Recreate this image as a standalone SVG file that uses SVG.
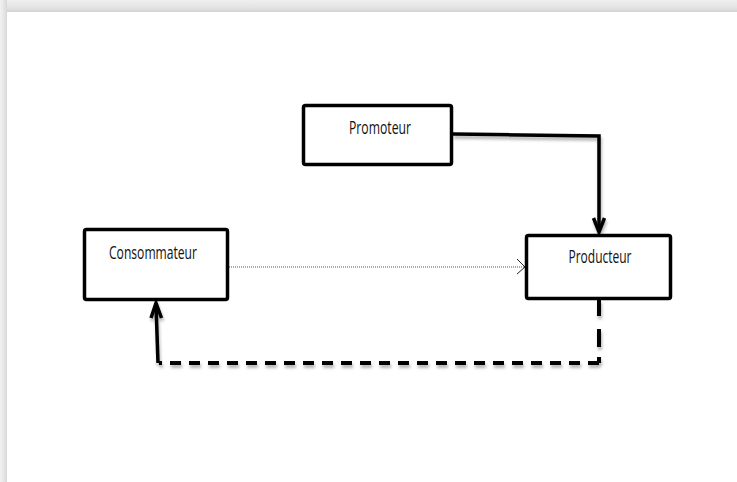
<svg xmlns="http://www.w3.org/2000/svg" width="737" height="482" viewBox="0 0 737 482">
  <defs>
    <linearGradient id="topband" x1="0" y1="0" x2="0" y2="1">
      <stop offset="0" stop-color="#efefef"/>
      <stop offset="0.7" stop-color="#e2e2e2"/>
      <stop offset="1" stop-color="#d2d2d2"/>
    </linearGradient>
    <linearGradient id="leftband" x1="0" y1="0" x2="1" y2="0">
      <stop offset="0" stop-color="#f2f2f2"/>
      <stop offset="0.7" stop-color="#e2e2e2"/>
      <stop offset="1" stop-color="#d6d6d6"/>
    </linearGradient>
    <filter id="shadow" x="-10%" y="-50%" width="120%" height="200%">
      <feDropShadow dx="1" dy="3" stdDeviation="1.5" flood-color="#000" flood-opacity="0.3"/>
    </filter>
    <style>
      .box { fill: #ffffff; stroke: #000000; stroke-width: 3.5; }
      .lbl { font-family: "Open Sans", "Liberation Sans", sans-serif; font-size: 18px; fill: #111111; text-anchor: middle; }
      .thick { fill: none; stroke: #000000; stroke-width: 3.5; stroke-linejoin: miter; }
      .dash { fill: none; stroke: #000000; stroke-width: 4; }
      .dotted { fill: none; stroke: #555555; stroke-width: 1; stroke-dasharray: 1 1; }
      .thinhead { fill: none; stroke: #222222; stroke-width: 1; }
    </style>
  </defs>

  <rect x="0" y="0" width="737" height="482" fill="#ffffff"/>
  <rect x="0" y="0" width="737" height="12" fill="url(#topband)"/>
  <rect x="0" y="0" width="7" height="482" fill="url(#leftband)"/>

  <g id="connectors">
    <g filter="url(#shadow)">
      <path class="thick" d="M 453 134 L 599 136 L 599 231"/>
      <path class="thick" d="M 593.5 218 L 599 232 L 604.5 218"/>
    </g>
    <path class="dotted" d="M 229 267 L 524 267"/>
    <path class="thinhead" d="M 517 259 L 525 267 L 517 274"/>
    <g filter="url(#shadow)">
      <path class="dash" d="M 599 300 L 599 316 M 599 329 L 599 347 M 599 357 L 599 363"/>
      <path class="dash" stroke-dasharray="11 8" d="M 599 363 L 159 363"/>
      <path class="thick" d="M 158 363 L 156 305"/>
      <path class="thick" d="M 151 318 L 156 303 L 161.5 318"/>
    </g>
  </g>

  <g id="promoteur">
    <rect class="box" x="303.5" y="105.5" width="148" height="59" rx="2"/>
    <text class="lbl" x="380" y="134" textLength="62" lengthAdjust="spacingAndGlyphs">Promoteur</text>
  </g>

  <g id="producteur">
    <rect class="box" x="526.5" y="235.5" width="144" height="63" rx="2"/>
    <text class="lbl" x="600" y="263" textLength="63" lengthAdjust="spacingAndGlyphs">Producteur</text>
  </g>

  <g id="consommateur">
    <rect class="box" x="84.5" y="229.5" width="143" height="70" rx="2"/>
    <text class="lbl" x="153" y="259" textLength="88" lengthAdjust="spacingAndGlyphs">Consommateur</text>
  </g>
</svg>
